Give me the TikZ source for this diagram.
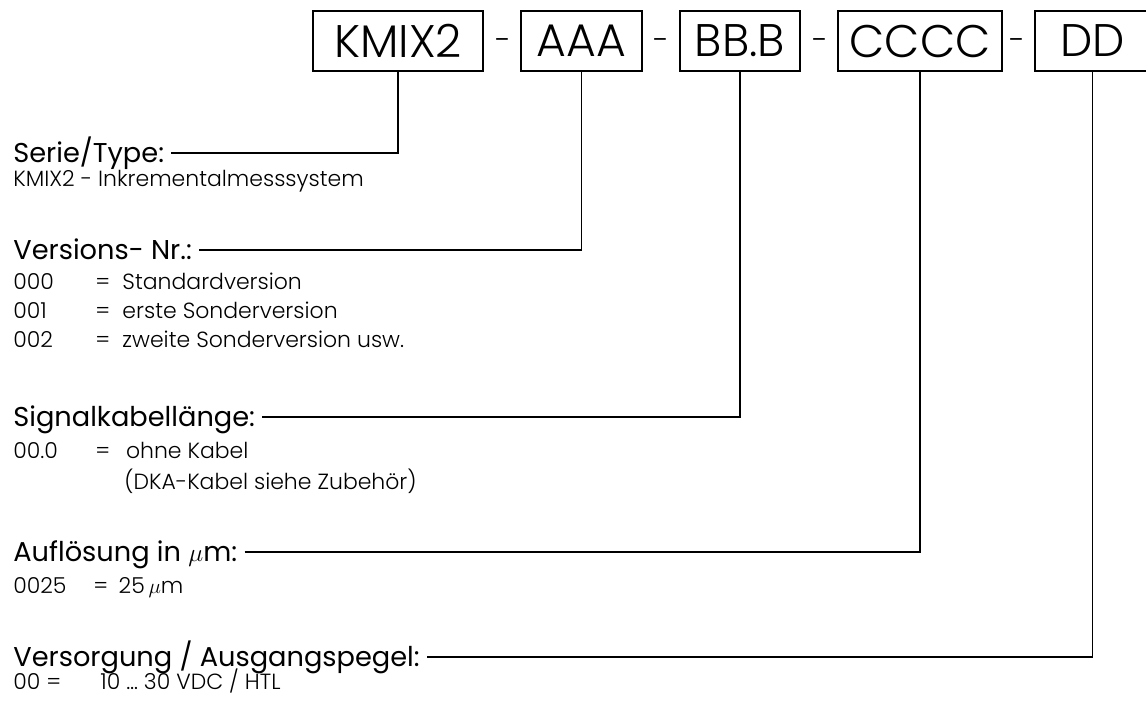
\documentclass[tikz,border=0pt]{standalone}
\usepackage{fontspec}
\setmainfont{Poppins}
\newfontfamily\thinfont{Poppins}[UprightFont=* Light]

\begin{document}
\begin{tikzpicture}[x=0.02cm, y=-0.02cm,
  codebox/.style={draw, line width=0.7pt, inner sep=0pt, minimum height=1.2cm, font=\thinfont\fontsize{26}{30}\selectfont},
  dashsign/.style={anchor=base, inner sep=0pt, font=\thinfont\fontsize{17}{20}\selectfont},
  heading/.style={anchor=west, inner sep=0pt, text height=11pt, text depth=0pt, font=\fontsize{15.5}{18}\selectfont},
  entry/.style={anchor=base west, inner sep=0pt, font=\thinfont\fontsize{12.5}{15}\selectfont},
  lead/.style={line width=0.8pt}]
  \useasboundingbox (0,0) rectangle (1146,700);
  % type code boxes
  \node [codebox, minimum width=3.4cm] (kmix) at (398,41) {KMIX2\hspace{8pt}};
  \node [dashsign] (dash1) at (503,50) {-};
  \node [codebox, minimum width=2.42cm] (aaa) at (581.5,41) {AAA};
  \node [dashsign] (dash2) at (661,50) {-};
  \node [codebox, minimum width=2.4cm] (bbb) at (740,41) {BB.B};
  \node [dashsign] (dash3) at (820,50) {-};
  \node [codebox, minimum width=3.28cm] (cccc) at (920,41) {CCCC};
  \node [dashsign] (dash4) at (1017,50) {-};
  \node [codebox, minimum width=2.3cm] (dd) at (1092.5,41) {DD};
  % headings
  \node [heading] (serie) at (13,153) {Serie/Type:};
  \node [heading] (version) at (13,250) {Versions- Nr.:};
  \node [heading] (signal) at (13,417) {Signalkabellänge:};
  \node [heading] (aufl) at (13,552) {Auflösung in $\mu$m:};
  \node [heading] (versorg) at (13,657) {Versorgung / Ausgangspegel:};
  % entries
  \node [entry] (typ) at (13,186) {KMIX2 - Inkrementalmesssystem};
  \node [entry] (nr000) at (13,289) {000};
  \node [entry] (tx000) at (95,289) {=\hspace{7pt}Standardversion};
  \node [entry] (nr001) at (13,318) {001};
  \node [entry] (tx001) at (95,318) {=\hspace{7pt}erste Sonderversion};
  \node [entry] (nr002) at (13,347) {002};
  \node [entry] (tx002) at (95,347) {=\hspace{7pt}zweite Sonderversion usw.};
  \node [entry] (nr000k) at (13,458) {00.0};
  \node [entry] (tx000k) at (95,458) {=\hspace{9pt}ohne Kabel};
  \node [entry] (txdka) at (124,489) {(DKA-Kabel siehe Zubehör)};
  \node [entry] (nr0025) at (13,593) {0025};
  \node [entry] (tx0025) at (93,593) {=\hspace{6pt}25\,$\mu$m};
  \node [entry] (nr00) at (13,689) {00 =};
  \node [entry] (tx00) at (100,689) {10 … 30 VDC / HTL};
  % leader lines
  \draw [lead] ([xshift=4pt]serie.east) -| (kmix.south);
  \draw [lead] ([xshift=4pt]version.east) -| (aaa.south);
  \draw [lead] ([xshift=4pt]signal.east) -| (bbb.south);
  \draw [lead] ([xshift=4pt]aufl.east) -| (cccc.south);
  \draw [lead] ([xshift=4pt]versorg.east) -| (dd.south);
\end{tikzpicture}
\end{document}
